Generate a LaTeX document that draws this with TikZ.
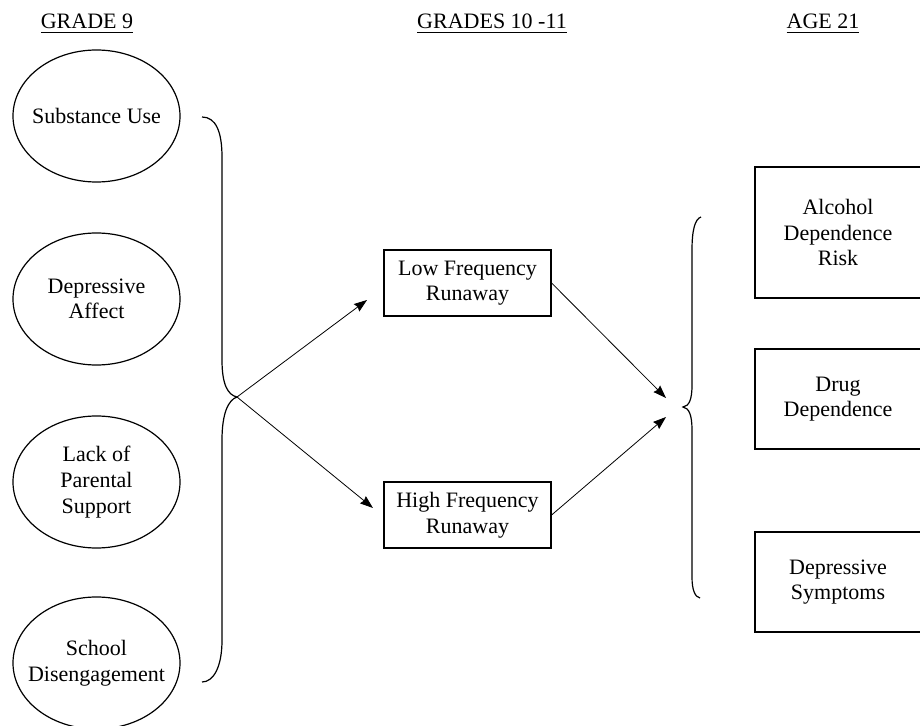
\documentclass[tikz,border=0pt]{standalone}
\usepackage{fontspec}
\setmainfont{Liberation Serif}
\usetikzlibrary{arrows.meta,shapes.geometric}

\begin{document}
\begin{tikzpicture}[
    x=0.5pt, y=-0.5pt,
    factor/.style={ellipse, draw, line width=0.6pt, minimum width=83.5pt, minimum height=66pt,
        inner sep=0pt, label={[align=center]center:#1}},
    runbox/.style={rectangle, draw, line width=0.6pt, minimum width=83.5pt, minimum height=33pt,
        inner sep=0pt, align=center},
    outbox/.style={rectangle, draw, line width=0.6pt, minimum width=83pt, minimum height=50pt,
        inner sep=0pt, align=center},
    heading/.style={anchor=base},
    brace/.style={line width=0.6pt},
    >={Stealth[length=6.5pt, width=4.6pt, inset=0.7pt]},
    font=\fontsize{11}{12.8}\selectfont
]
    \useasboundingbox (0,0) rectangle (920,726);

    % column headings
    \node[heading] (g9)  at (87,29)  {\underline{GRADE 9}};
    \node[heading] (g10) at (492,29) {\underline{GRADES 10 -11}};
    \node[heading] (a21) at (823,29) {\underline{AGE 21}};

    % grade 9 predictors
    \node[factor={Substance Use}] (SU) at (96.5,116) {};
    \node[factor={Depressive\\Affect}] (DA) at (96.5,299) {};
    \node[factor={Lack of\\Parental\\Support}] (LP) at (96.5,482) {};
    \node[factor={School\\Disengagement}] (SD) at (96.5,663) {};

    % runaway groups
    \node[runbox] (LF) at (467.5,283) {Low Frequency\\Runaway};
    \node[runbox] (HF) at (467.5,515) {High Frequency\\Runaway};

    % age 21 outcomes
    \node[outbox, minimum height=65.5pt] (AD) at (838,232.5) {Alcohol\\Dependence\\Risk};
    \node[outbox] (DD) at (838,399) {Drug\\Dependence};
    \node[outbox] (DS) at (838,582) {Depressive\\Symptoms};

    % brace tips and arrow ends
    \coordinate (lb) at (237,397);
    \coordinate (rb) at (683,407);
    \coordinate (lfin) at (367,300);
    \coordinate (hfin) at (373,508);
    \coordinate (oin1) at (666,398);
    \coordinate (oin2) at (666,417);

    % left brace
    \draw[brace] (202,117) .. controls (216,117) and (222,132) .. (222,157) -- (222,360)
        .. controls (222,385) and (228,395) .. (lb)
        .. controls (228,400) and (222,414) .. (222,440) -- (222,640)
        .. controls (222,668) and (213,682) .. (202,682);

    % right brace
    \draw[brace] (701,217) .. controls (695,219) and (692,230) .. (692,250) -- (692,385)
        .. controls (692,400) and (689,406) .. (rb)
        .. controls (689,408) and (692,415) .. (692,430) -- (692,577)
        .. controls (692,590) and (695,597) .. (700,598);

    % arrows
    \draw[->] (lb) -- (lfin);
    \draw[->] (lb) -- (hfin);
    \draw[->] (LF.east) -- (oin1);
    \draw[->] (HF.east) -- (oin2);

\end{tikzpicture}
\end{document}
